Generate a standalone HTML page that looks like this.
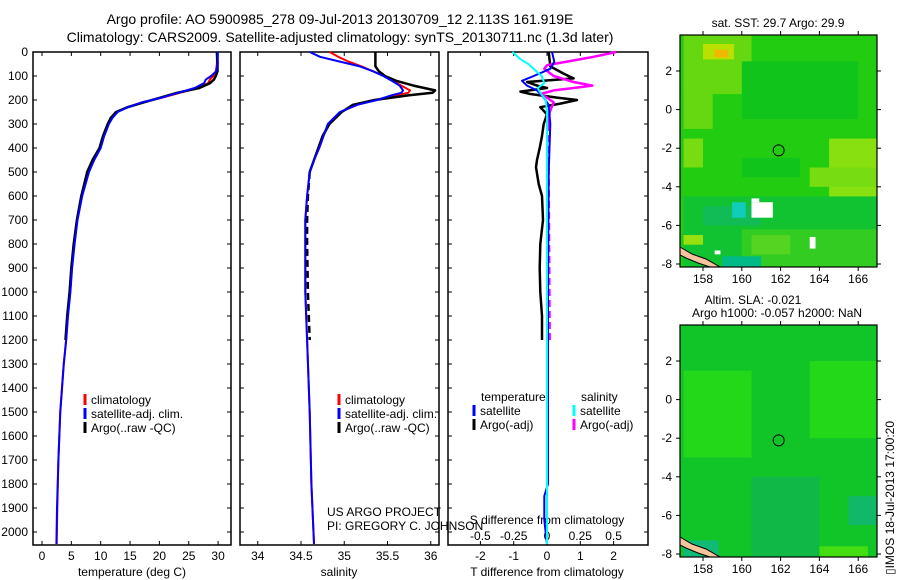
<!DOCTYPE html>
<html><head><meta charset="utf-8"><style>
html,body{margin:0;padding:0;background:#fff;}
svg{display:block;font-family:"Liberation Sans",sans-serif;}
text{font-size:12px;fill:#000;}
</style></head><body>
<svg id="chart" width="900" height="580" viewBox="0 0 900 580" xmlns="http://www.w3.org/2000/svg">
<rect width="900" height="580" fill="#fff"/>
<text x="340" y="24" text-anchor="middle" style="font-size:14px">Argo profile: AO 5900985_278 09-Jul-2013 20130709_12 2.113S 161.919E</text>
<text x="340" y="42" text-anchor="middle" style="font-size:14px">Climatology: CARS2009. Satellite-adjusted climatology: synTS_20130711.nc (1.3d later)</text>
<g id="panels"></g>
<g>
<text x="778" y="27" text-anchor="middle">sat. SST: 29.7 Argo: 29.9</text>
<g id="map1"></g>
</g>
<g>
<text x="753" y="304" text-anchor="middle">Altim. SLA: -0.021</text>
<text x="777" y="317" text-anchor="middle">Argo h1000: -0.057 h2000: NaN</text>
<g id="map2"></g>
</g>
<text transform="translate(894,575) rotate(-90)">▯IMOS 18-Jul-2013 17:00:20</text>
</svg>
<script>
// ---- data ----
const depthT=[0,50,80,100,115,130,150,170,190,210,230,250,275,300,350,400,450,500,600,700,800,900,1000,1100,1200,1300,1500,1700,1900,2050];
const climT=[29.8,29.8,29.6,29.2,28.6,28.3,26.4,23.5,20.5,17.0,14.5,12.8,11.9,11.3,10.5,9.9,8.8,7.9,6.8,6.0,5.5,5.1,4.8,4.4,4.1,3.7,3.1,2.8,2.6,2.5];
const satT=[29.95,29.95,29.7,28.8,27.9,27.6,26.0,23.2,20.4,17.0,14.6,12.9,12.0,11.4,10.6,10.0,8.9,8.0,6.85,6.05,5.55,5.13,4.83,4.43,4.12,3.72,3.12,2.8,2.55,2.45];
const argoT=[29.8,29.9,29.9,29.6,29.3,28.6,26.8,23.0,20.2,17.3,14.6,12.6,11.7,11.2,10.4,9.8,8.6,7.7,6.7,5.95,5.4,5.0,4.7,4.3,4.0];
const depthS=[0,20,40,60,80,100,120,140,160,170,180,200,220,250,300,350,400,450,500,600,700,800,1000,1200,1500,1800,2050];
const satS=[34.6,34.72,34.95,35.18,35.33,35.45,35.55,35.64,35.68,35.66,35.55,35.38,35.15,34.95,34.81,34.76,34.71,34.65,34.6,34.57,34.55,34.55,34.55,34.57,34.6,34.62,34.65];
const climS=[34.83,34.93,35.05,35.2,35.33,35.46,35.56,35.66,35.76,35.74,35.6,35.36,35.15,34.96,34.82,34.76,34.71,34.65,34.6,34.57,34.55,34.55,34.55,34.57,34.6,34.62,34.65];
const argoS=[35.36,35.36,35.36,35.36,35.4,35.47,35.6,35.8,36.05,36.02,35.75,35.35,35.1,34.97,34.83,34.75,34.7,34.65,34.6,34.58,34.57,34.57,34.58,34.6];
const satTdDepth=[0,40,70,100,120,140,160,190,220,300,500,1000,1800,1850,1950,2050];
const satTd=[0.15,0.22,0.1,-0.4,-0.75,-0.6,-0.3,-0.1,0.05,0.1,0.05,0.03,0.03,-0.08,-0.08,0];
const argoTdDepth=[0,60,90,110,125,140,150,165,175,190,200,215,230,260,300,350,400,450,480,550,600,700,800,900,1000,1100,1200];
const argoTd=[0.05,0.1,0.5,0.8,-0.6,-0.3,0,-0.8,-0.5,0.3,0.9,0.4,-0.2,0,-0.1,-0.15,-0.22,-0.3,-0.33,-0.25,-0.15,-0.12,-0.2,-0.22,-0.2,-0.15,-0.15];
const satSdDepth=[0,30,50,80,100,130,150,170,200,250,2050];
const satSd=[-0.26,-0.2,-0.14,-0.08,-0.04,-0.02,-0.07,-0.05,-0.01,0,0];
const argoSdDepth=[0,20,40,55,70,100,125,140,150,160,175,190,210,250,300,1200];
const argoSd=[0.52,0.35,0.15,0,-0.02,0.05,0.2,0.34,0.2,0.05,-0.05,0,0.05,0.02,0.01,0.02];
const depthTicks=[0,100,200,300,400,500,600,700,800,900,1000,1100,1200,1300,1400,1500,1600,1700,1800,1900,2000];
const tempTicks=[0,5,10,15,20,25,30];
const salTicks=[34,34.5,35,35.5,36];
const tdTicks=[-2,-1,0,1,2];
const sdTicks=[-0.5,-0.25,0,0.25,0.5];

const NS='http://www.w3.org/2000/svg';
const root=document.getElementById('panels');
function mk(tag,attrs,parent){const e=document.createElementNS(NS,tag);for(const k in attrs)e.setAttribute(k,attrs[k]);(parent||root).appendChild(e);return e;}
const yD=d=>52+d*0.24;
const TOP=52,BOT=545;
function panel(x0,x1,name){
  const r=mk('rect',{x:x0,y:TOP,width:x1-x0,height:BOT-TOP,fill:'none',stroke:'#000','stroke-width':1.5});
  
  
  depthTicks.forEach(d=>{mk('line',{x1:x0,x2:x0+4,y1:yD(d),y2:yD(d),stroke:'#000'});mk('line',{x1:x1-4,x2:x1,y1:yD(d),y2:yD(d),stroke:'#000'});});
}
// draws solid down to splitDepth, dashed below (if splitDepth given)
function line(xs,ds,fx,color,w,name,splitDepth){
  const pts=xs.map((v,i)=>[fx(v),yD(ds[i]),ds[i]]);
  const draw=(arr,dash)=>{
    const e=mk('polyline',{points:arr.map(p=>p[0].toFixed(1)+','+p[1].toFixed(1)).join(' '),fill:'none',stroke:color,'stroke-width':w,'stroke-linejoin':'round'});
    if(dash)e.setAttribute('stroke-dasharray','7,4');
    
    
  };
  if(splitDepth===undefined){draw(pts,false);return;}
  draw(pts.filter(p=>p[2]<=splitDepth),false);
  draw(pts.filter(p=>p[2]>=splitDepth),true);
}
function txt(x,y,s,anchor,name,size){const e=mk('text',{x:x,y:y,'text-anchor':anchor||'start'});if(size)e.style.fontSize=size+'px';e.textContent=s;return e;}
function xticks(vals,fx,labY,name,labels){vals.forEach((v,i)=>{const x=fx(v);mk('line',{x1:x,x2:x,y1:TOP,y2:TOP+4,stroke:'#000'});mk('line',{x1:x,x2:x,y1:BOT-4,y2:BOT,stroke:'#000'});if(labels)txt(x,labY,String(v),'middle',name);});}
function legendItem(x,y,color,label,name){mk('line',{x1:x,x2:x,y1:y-10,y2:y+1,stroke:color,'stroke-width':3});txt(x+6,y,label,'start',name);}

// Panel 1
const xT=t=>42+t*5.87;
panel(33,231,'temperature-panel');
depthTicks.forEach(d=>txt(28,yD(d)+4,String(d),'end','depth-tick-label'));
xticks(tempTicks,xT,560,'temperature-tick-label',true);
txt(132,576,'temperature (deg C)','middle','temperature-axis-title');
line(climT,depthT,xT,'#f00',2,'temperature-climatology-line');
line(argoT,depthT,xT,'#000',2.5,'temperature-argo-line');
line(satT,depthT,xT,'#00f',2,'temperature-satellite-line');
legendItem(85,404,'#f00','climatology','legend-climatology');
legendItem(85,418,'#00f','satellite-adj. clim.','legend-satellite');
legendItem(85,432,'#000','Argo(..raw -QC)','legend-argo');

// Panel 2
const xS=s=>301+(s-34.5)*86.5;
panel(240,439,'salinity-panel');
xticks(salTicks,xS,560,'salinity-tick-label',true);
txt(339,576,'salinity','middle','salinity-axis-title');
line(climS,depthS,xS,'#f00',2,'salinity-climatology-line');
line(argoS,depthS,xS,'#000',2.5,'salinity-argo-line',500);
line(satS,depthS,xS,'#00f',2,'salinity-satellite-line');
legendItem(339,404,'#f00','climatology','legend-climatology-2');
legendItem(339,418,'#00f','satellite-adj. clim.','legend-satellite-2');
legendItem(339,432,'#000','Argo(..raw -QC)','legend-argo-2');
txt(327,516,'US ARGO PROJECT','start','project-label');
txt(327,530,'PI: GREGORY C. JOHNSON','start','pi-label');

// Panel 3
const xTd=t=>547+t*33.3;
const xSd=s=>547+s*133.2;
panel(448,648,'difference-panel');
xticks(tdTicks,xTd,560,'t-diff-tick-label',true);
sdTicks.forEach(v=>txt(xSd(v),540,String(v),'middle','s-diff-tick-label'));
txt(547,524,'S difference from climatology','middle','s-diff-axis-title');
txt(547,576,'T difference from climatology','middle','t-diff-axis-title');
line(argoTd,argoTdDepth,xTd,'#000',2.5,'t-diff-argo-line');
line(argoSd,argoSdDepth,xSd,'#f0f',2.5,'s-diff-argo-line',300);
line(satTd,satTdDepth,xTd,'#00f',2,'t-diff-satellite-line');
line(satSd,satSdDepth,xSd,'#0ff',2,'s-diff-satellite-line');
txt(481,401,'temperature','start','legend-temperature-heading');
txt(581,401,'salinity','start','legend-salinity-heading');
legendItem(474,415,'#00f','satellite','legend-t-satellite');
legendItem(474,429,'#000','Argo(-adj)','legend-t-argo');
legendItem(574,415,'#0ff','satellite','legend-s-satellite');
legendItem(574,429,'#f0f','Argo(-adj)','legend-s-argo');

// Maps
function map(gid,top,base,patches,name){
  const g=document.getElementById(gid);
  const L=680,R=877,B=top+232;
  const lx=lon=>703+(lon-158)*19.4;
  const ly=lat=>top+36+(2-lat)*19.3;
  mk('rect',{x:L,y:top,width:R-L,height:B-top,fill:base},g);
  patches.forEach(p=>{
    const x0=Math.max(L,lx(Math.min(p[0],p[1]))),x1=Math.min(R,lx(Math.max(p[0],p[1])));
    const y0=Math.max(top,ly(Math.max(p[2],p[3]))),y1=Math.min(B,ly(Math.min(p[2],p[3])));
    mk('rect',{x:x0,y:y0,width:Math.max(0,x1-x0),height:Math.max(0,y1-y0),fill:p[4]},g);
  });
  mk('polygon',{points:`${L},${B-20} ${L+12},${B-13} ${L+26},${B-8} ${L+40},${B} ${L+30},${B} ${L+18},${B-4} ${L+6},${B-9} ${L},${B-12}`,fill:'#f6c49a',stroke:'#000','stroke-width':1},g);
  const c=mk('circle',{cx:lx(161.9),cy:ly(-2.11),r:5.5,fill:'none',stroke:'#000','stroke-width':1},g);
  
  
  const fr=mk('rect',{x:L,y:top,width:R-L,height:B-top,fill:'none',stroke:'#000','stroke-width':1.2},g);
  
  
  [158,160,162,164,166].forEach(lon=>{const x=lx(lon);mk('line',{x1:x,x2:x,y1:top-4,y2:top,stroke:'#000'},g);mk('line',{x1:x,x2:x,y1:B,y2:B+4,stroke:'#000'},g);const t=mk('text',{x:x,y:B+16,'text-anchor':'middle'},g);t.textContent=lon;});
  [2,0,-2,-4,-6,-8].forEach(lat=>{const y=ly(lat);mk('line',{x1:L-4,x2:L,y1:y,y2:y,stroke:'#000'},g);mk('line',{x1:R,x2:R+4,y1:y,y2:y,stroke:'#000'},g);const t=mk('text',{x:L-8,y:y+4,'text-anchor':'end'},g);t.textContent=lat;});
}
map('map1',35,'#22cc11',[
 [157,160.5,0.8,3.9,'#66d811'],[157,158.5,-1,1.5,'#66d811'],[157,158,-1.5,-3,'#77dc11'],[158,159.6,2.6,3.4,'#b8e000'],[158.6,159.3,2.7,3.1,'#f0b800'],
 [160,166,-0.5,2.5,'#11c41c'],[160,163,-2.5,-3.5,'#11c41c'],[164.5,167,-1.5,-4.5,'#88e011'],[163.5,167,-3,-4,'#77dc11'],
 [157,167,-4.5,-8.2,'#11c330'],[158,161,-5,-6,'#11bb55'],[159.5,160.2,-4.8,-5.6,'#11ccbb'],[160.5,161.6,-4.8,-5.6,'#ffffff'],[160.5,160.9,-4.6,-4.8,'#ffffff'],
 [160,167,-6.2,-8.2,'#33cc22'],[160.5,162.5,-6.5,-7.5,'#55d522'],[163.5,163.8,-6.6,-7.2,'#ffffff'],[158.6,158.9,-7.3,-7.5,'#ffffff'],[157,158,-6.5,-7,'#99e011'],[159,161,-7.6,-8.2,'#00bb88']
],'sst-map');
map('map2',325,'#11c528',[
 [157,160.5,-3,1.5,'#22d818'],[163.5,167,-2,2,'#22d818'],[160.5,164,-4,-8.2,'#10b848'],[165.5,167,-5,-6.5,'#10b868'],
 [164,166.5,-7.6,-8.2,'#44dd11'],[157,158.8,-7.3,-8.2,'#11bb77']
],'sla-map');
</script>
</body></html>
